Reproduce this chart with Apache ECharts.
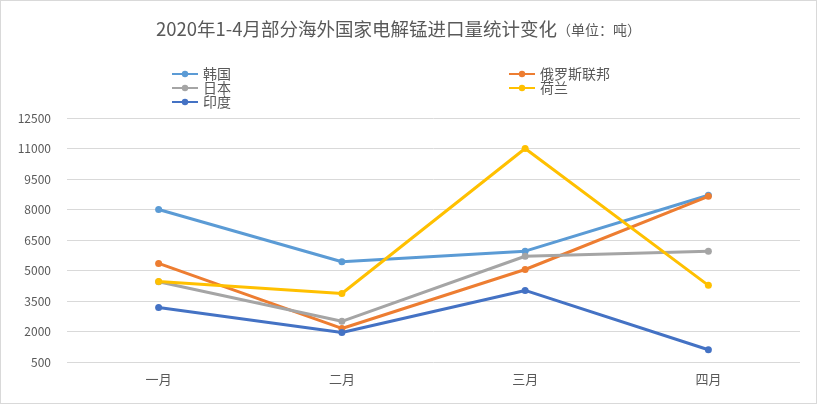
<!DOCTYPE html>
<html>
<head>
<meta charset="utf-8">
<script src="https://cdn.jsdelivr.net/npm/echarts@6/dist/echarts.min.js"></script>
<style>
  html, body { margin: 0; padding: 0; background: #fff; }
  #chart { width: 815px; height: 402px; border: 1px solid #d9d9d9; }
</style>
</head>
<body>
<div id="chart"></div>
<script>
// categories and series values (吨)
var months = ['一月', '二月', '三月', '四月'];
var korea = [8000, 5430, 5950, 8700];
var russia = [5350, 2150, 5050, 8650];
var japan = [4450, 2500, 5700, 5950];
var netherlands = [4460, 3870, 11000, 4270];
var india = [3180, 1950, 4020, 1100];
var yTicks = [500, 2000, 3500, 5000, 6500, 8000, 9500, 11000, 12500];

var fontFamily = '"Noto Sans CJK SC", "Noto Sans", sans-serif';
var textColor = '#595959';

var chart = echarts.init(document.getElementById('chart'));

function makeSeries(name, values, color) {
  return {
    name: name,
    type: 'line',
    data: values,
    symbol: 'circle',
    symbolSize: 7,
    itemStyle: { color: color },
    lineStyle: { color: color, width: 3 },
    emphasis: { disabled: true }
  };
}

var legendText = { color: textColor, fontSize: 14, fontFamily: fontFamily, lineHeight: 14 };

var option = {
  animation: false,
  textStyle: { fontFamily: fontFamily },
  title: {
    text: '{main|2020年1-4月部分海外国家电解锰进口量统计变化}{sub|（单位：吨）}',
    left: 150,
    top: 14,
    textStyle: {
      fontWeight: 'normal',
      rich: {
        main: { fontSize: 18.5, color: textColor, fontFamily: fontFamily, fontWeight: 'normal' },
        sub: { fontSize: 14, color: textColor, fontFamily: fontFamily, fontWeight: 'normal' }
      }
    }
  },
  legend: [
    {
      data: ['韩国', '日本', '印度'],
      orient: 'vertical',
      left: 170,
      top: 66,
      padding: 0,
      itemWidth: 26,
      itemHeight: 8,
      itemGap: 0,
      textStyle: legendText
    },
    {
      data: ['俄罗斯联邦', '荷兰'],
      orient: 'vertical',
      left: 507,
      top: 66,
      padding: 0,
      itemWidth: 26,
      itemHeight: 8,
      itemGap: 0,
      textStyle: legendText
    }
  ],
  grid: { left: 66, right: 16, top: 117, bottom: 41 },
  xAxis: {
    type: 'category',
    data: months,
    boundaryGap: true,
    axisLine: { show: false },
    axisTick: { show: false },
    axisLabel: { color: textColor, fontSize: 13, margin: 11 }
  },
  yAxis: {
    type: 'value',
    min: yTicks[0],
    max: yTicks[yTicks.length - 1],
    interval: 1500,
    axisLine: { show: false },
    axisTick: { show: false },
    axisLabel: {
      color: textColor,
      fontSize: 12,
      margin: 16,
      formatter: function (v) { return String(v); }
    },
    splitLine: { lineStyle: { color: '#d9d9d9', width: 1 } }
  },
  series: [
    makeSeries('韩国', korea, '#5B9BD5'),
    makeSeries('俄罗斯联邦', russia, '#ED7D31'),
    makeSeries('日本', japan, '#A5A5A5'),
    makeSeries('荷兰', netherlands, '#FFC000'),
    makeSeries('印度', india, '#4472C4')
  ]
};

chart.setOption(option);
</script>
</body>
</html>
